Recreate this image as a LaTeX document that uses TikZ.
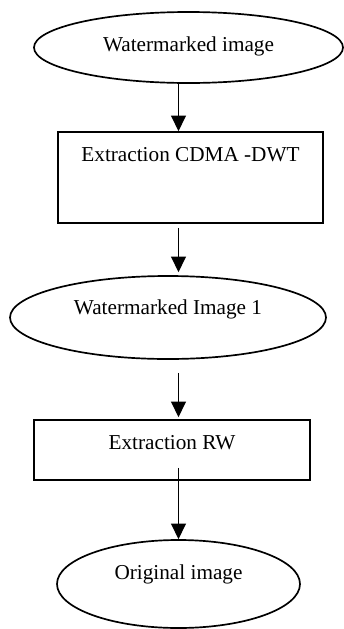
\documentclass[tikz,border=0pt]{standalone}
\usepackage{fontspec}
\setmainfont{Liberation Serif}
\usetikzlibrary{arrows.meta,shapes.geometric}

\begin{document}
\begin{tikzpicture}[x=1cm, y=1cm, font=\fontsize{15.1pt}{18pt}\selectfont,
    >={Triangle[length=11pt, width=10.5pt]},
    oval/.style={ellipse, draw, line width=1.2pt, text height=0.7em},
    stage/.style={rectangle, draw, line width=1.2pt, text height=0.7em},
    flow/.style={->, line width=1.1pt}]
    \useasboundingbox (0,0) rectangle (8.6,-15.725);
    % The arrows all run down one vertical line.
    \coordinate (spine) at (4.4625,0);
    % Steps of the extraction, top to bottom.
    \node[oval, minimum width=7.725cm, minimum height=1.775cm, text depth=0.2em] (wm) at (4.7125,-1.1875) {Watermarked image};
    \node[stage, minimum width=6.625cm, minimum height=2.275cm, text depth=1.045cm] (cdma) at (4.7625,-4.4375) {Extraction CDMA -DWT};
    \node[oval, minimum width=7.9cm, minimum height=2.075cm, text depth=0.42cm] (img1) at (4.2,-7.9375) {Watermarked Image 1};
    \node[stage, minimum width=6.9cm, minimum height=1.5cm, text depth=0.295cm] (rw) at (4.3,-11.25) {Extraction RW};
    \node[oval, minimum width=6.075cm, minimum height=2.2cm, text depth=0.495cm] (orig) at (4.4625,-14.6) {Original image};
    % Connectors.
    \draw[flow] (wm.south -| spine) -- (cdma.north -| spine);
    \draw[flow, shorten <=0.1cm, shorten >=0.075cm] (cdma.south -| spine) -- (img1.north -| spine);
    \draw[flow, shorten <=0.325cm, shorten >=0.05cm] (img1.south -| spine) -- (rw.north -| spine);
    \draw[flow, shorten <=-0.325cm] (rw.south -| spine) -- (orig.north -| spine);
\end{tikzpicture}
\end{document}
